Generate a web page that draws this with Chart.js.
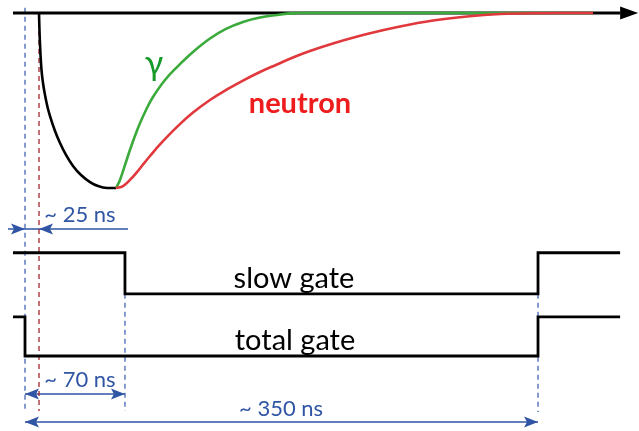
<!DOCTYPE html>
<html>
<head>
<meta charset="utf-8">
<script src="https://cdn.jsdelivr.net/npm/chart.js@4"></script>
<style>
  html, body { margin: 0; padding: 0; background: #fff; }
  #wrap { width: 639px; height: 431px; position: relative; }
</style>
</head>
<body>
<div id="wrap"><canvas id="pulse"></canvas></div>
<script>
// time in ns, signal in units of the pulse depth
const blackT = [9.55, 9.76, 10.1, 10.58, 11.26, 12.28, 13.65, 15.35, 17.06, 20.47, 23.88, 27.97, 32.75, 38.21, 44.35, 49.81, 55.95, 62.1];
const blackV = [0, -0.069, -0.154, -0.24, -0.326, -0.4, -0.469, -0.537, -0.589, -0.674, -0.743, -0.811, -0.874, -0.926, -0.966, -0.989, -1, -1];

const gammaT = [62.1, 64.8, 68.2, 71.6, 75.0, 78.5, 83.2, 87.3, 95.5, 103.7, 114.6, 126.2, 137.1, 148.7, 160.3, 171.9, 180.8, 187.6, 387.5];
const gammaV = [-1, -0.954, -0.869, -0.783, -0.703, -0.629, -0.543, -0.48, -0.383, -0.309, -0.223, -0.146, -0.091, -0.051, -0.026, -0.011, -0.002, 0, 0];

const neutronT = [62.1, 66.9, 71.6, 76.4, 80.5, 85.3, 92.1, 103.7, 114.6, 126.2, 137.8, 148.7, 160.3, 171.9, 182.8, 194.4, 210.1, 233.3, 255.8, 278.4, 301.6, 324.1, 346.6, 387.5];
const neutronV = [-1, -0.989, -0.954, -0.909, -0.866, -0.817, -0.751, -0.651, -0.569, -0.497, -0.437, -0.386, -0.337, -0.294, -0.254, -0.217, -0.174, -0.12, -0.077, -0.043, -0.02, -0.006, -0.001, 0];

const axisT = [-8.2, 406, 418.3];

// gate levels (corners listed explicitly)
const slowGateT = [-8.2, 68.2, 68.2, 350, 350, 406];
const slowGateV = [-1.37, -1.37, -1.605, -1.605, -1.37, -1.37];
const totalGateT = [-8.2, 0, 0, 350, 350, 406];
const totalGateV = [-1.737, -1.737, -1.96, -1.96, -1.737, -1.737];

// dashed time markers
const markerT = [0, 68.2, 350];
const markerTop = [0.03, -1.605, -1.605];
const markerBottom = [-2.274, -2.274, -2.28];
const startT = 9.55;

// dimension arrows
const arrow25T = [-11.6, 0, 9.55, 70.3];
const arrow25V = -1.234;
const arrow70T = [0, 68.2];
const arrow70V = -2.177;
const arrow350T = [0, 350];
const arrow350V = -2.337;

// text labels
const labelText = ['γ', 'neutron', 'slow gate', 'total gate', '~ 25 ns', '~ 70 ns', '~ 350 ns'];
const labelT = [88, 187.6, 183.5, 184.2, 37.5, 37.5, 174.7];
const labelV = [-0.354, -0.571, -1.571, -1.926, -1.194, -2.137, -2.303];

const BLUE = '#2f55a4';
const labelStyle = [
  { font: '34px Lato', color: '#179a2a' },
  { font: 'bold 29px Lato', color: '#ee1c1c' },
  { font: '29px Lato', color: '#000' },
  { font: '29px Lato', color: '#000' },
  { font: '22px Lato', color: BLUE },
  { font: '22px Lato', color: BLUE },
  { font: '22px Lato', color: BLUE }
];

const pts = (xs, ys) => xs.map((x, i) => ({ x, y: Array.isArray(ys) ? ys[i] : ys }));

const datasets = [];

datasets.push({
  data: pts(neutronT, neutronV), borderColor: '#e0383c', borderWidth: 2.6,
  tension: 0.4, order: 1
});
datasets.push({
  data: pts(gammaT, gammaV), borderColor: '#3aaa3a', borderWidth: 2.6,
  tension: 0.4, order: 2
});
datasets.push({
  data: pts(blackT, blackV), borderColor: '#000', borderWidth: 2.6,
  cubicInterpolationMode: 'monotone', order: 3
});
datasets.push({
  data: pts(axisT, 0), borderColor: '#000', borderWidth: 3, order: 4,
  segment: { borderColor: c => c.p1DataIndex === 2 ? 'rgba(0,0,0,0)' : undefined },
  heads: [[2, 1]], headLength: 18, headWidth: 6.5, headNotch: 0
});
datasets.push({ data: pts(slowGateT, slowGateV), borderColor: '#000', borderWidth: 2.8, order: 5 });
datasets.push({ data: pts(totalGateT, totalGateV), borderColor: '#000', borderWidth: 2.8, order: 5 });

markerT.forEach((t, i) => {
  datasets.push({
    data: [{ x: t, y: markerTop[i] }, { x: t, y: markerBottom[i] }],
    borderColor: '#4466b4', borderWidth: 1.3, borderDash: [5, 4], order: 6
  });
});
datasets.push({
  data: [{ x: startT, y: 0 }, { x: startT, y: markerBottom[0] }],
  borderColor: '#a3262a', borderWidth: 1.3, borderDash: [5, 4], order: 6
});

const thinArrow = { borderColor: BLUE, borderWidth: 1.6, order: 6, headLength: 14, headWidth: 5.5, headNotch: 3 };
datasets.push(Object.assign({ data: pts(arrow25T, arrow25V), heads: [[1, 0], [2, 3]] }, thinArrow));
datasets.push(Object.assign({ data: pts(arrow70T, arrow70V), heads: [[0, 1], [1, 0]] }, thinArrow));
datasets.push(Object.assign({ data: pts(arrow350T, arrow350V), heads: [[0, 1], [1, 0]] }, thinArrow));

const arrowHeads = {
  id: 'arrowHeads',
  afterDatasetsDraw(chart) {
    const ctx = chart.ctx;
    chart.data.datasets.forEach((ds, i) => {
      if (!ds.heads) return;
      const els = chart.getDatasetMeta(i).data;
      ds.heads.forEach(([tip, from]) => {
        const a = els[tip], b = els[from];
        const ang = Math.atan2(a.y - b.y, a.x - b.x);
        const L = ds.headLength, W = ds.headWidth, N = ds.headNotch;
        ctx.save();
        ctx.translate(a.x, a.y);
        ctx.rotate(ang);
        ctx.beginPath();
        ctx.moveTo(0, 0);
        ctx.lineTo(-L, -W);
        ctx.lineTo(-L + N, 0);
        ctx.lineTo(-L, W);
        ctx.closePath();
        ctx.fillStyle = ds.borderColor;
        ctx.fill();
        ctx.restore();
      });
    });
  }
};

const textLabels = {
  id: 'textLabels',
  afterDatasetsDraw(chart) {
    const { ctx, scales: { x, y } } = chart;
    ctx.save();
    ctx.textAlign = 'center';
    ctx.textBaseline = 'alphabetic';
    labelText.forEach((t, i) => {
      ctx.font = labelStyle[i].font;
      ctx.fillStyle = labelStyle[i].color;
      ctx.fillText(t, x.getPixelForValue(labelT[i]), y.getPixelForValue(labelV[i]));
    });
    ctx.restore();
  }
};

new Chart(document.getElementById('pulse'), {
  type: 'line',
  data: { datasets },
  options: {
    responsive: true,
    maintainAspectRatio: false,
    animation: false,
    layout: { padding: 0 },
    elements: { point: { radius: 0 }, line: { tension: 0, borderCapStyle: 'butt', fill: false } },
    plugins: { legend: { display: false }, tooltip: { enabled: false } },
    scales: {
      x: { type: 'linear', min: -17.06, max: 418.9, display: false },
      y: { type: 'linear', min: -2.3886, max: 0.0743, display: false }
    }
  },
  plugins: [arrowHeads, textLabels]
});
</script>
</body>
</html>
